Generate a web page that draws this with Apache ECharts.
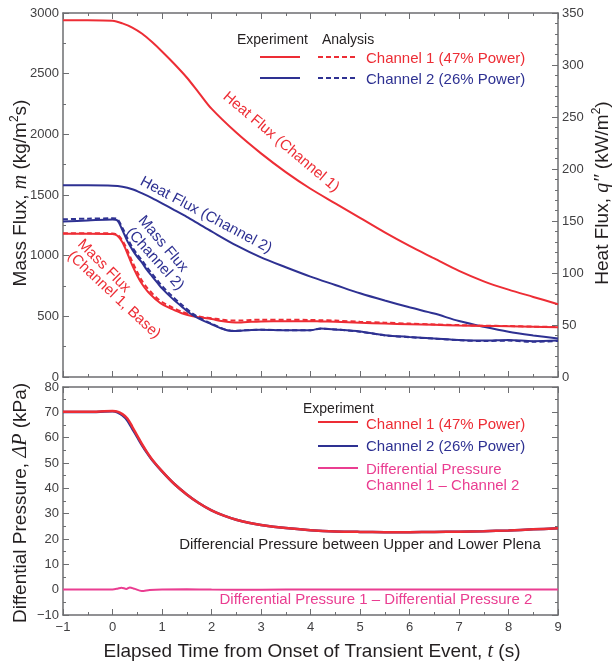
<!DOCTYPE html>
<html><head><meta charset="utf-8">
<script src="https://cdn.jsdelivr.net/npm/echarts@6.0.0/dist/echarts.min.js"></script>
<style>html,body{margin:0;padding:0;background:#fff}#c{width:612px;height:666px}</style>
</head><body><div id="c"></div>
<script>
// ---- Heat flux (kW/m2), right axis of the upper panel
const tHeat = [-1, -0.5, 0, 0.2, 0.4, 0.6, 0.8, 1.0, 1.25, 1.5, 1.75, 2.0, 2.5, 3.0, 3.5, 4.0, 4.5, 5.0, 5.5, 6.0, 6.5, 7.0, 7.5, 8.0, 8.5, 9.0];
const heatFluxCh1 = [343, 343, 342.5, 340, 336, 330, 322, 313, 301, 288, 273, 258, 235, 215, 197, 181, 167, 153, 139, 126, 114, 102, 92, 84, 77, 70];
const heatFluxCh2 = [184.3, 184.3, 184, 183, 180.5, 176.5, 172, 167, 160.5, 154, 147, 140, 126.5, 115, 105.5, 96.5, 88.5, 80.5, 73.5, 67, 61, 53.8, 48.3, 43.5, 40, 37];
// ---- Mass flux (kg/m2s), left axis of the upper panel
const tMass = [-1, -0.5, 0, 0.1, 0.2, 0.3, 0.4, 0.5, 0.6, 0.7, 0.8, 0.9, 1.0, 1.2, 1.4, 1.6, 1.8, 2.0, 2.2, 2.4, 2.6, 2.8, 3.0, 3.5, 4.0, 4.2, 4.5, 5.0, 5.5, 6.0, 6.5, 7.0, 7.5, 8.0, 8.5, 9.0];
const massCh1Exp = [1180, 1180, 1178, 1165, 1110, 1020, 920, 835, 765, 710, 668, 630, 600, 560, 525, 502, 490, 478, 462, 452, 450, 455, 458, 460, 460, 458, 455, 447, 440, 435, 430, 425, 421, 418, 414, 410];
const massCh1Ana = [1185, 1185, 1183, 1172, 1125, 1045, 950, 865, 790, 735, 690, 650, 618, 575, 538, 512, 495, 485, 472, 465, 465, 470, 472, 472, 470, 468, 465, 455, 448, 440, 433, 428, 423, 420, 415, 412];
const massCh2Exp = [1282, 1290, 1298, 1290, 1210, 1120, 1050, 990, 940, 880, 830, 780, 730, 650, 580, 515, 470, 435, 400, 380, 382, 388, 390, 385, 385, 400, 392, 375, 345, 330, 318, 305, 300, 305, 295, 300];
const massCh2Ana = [1300, 1305, 1308, 1300, 1230, 1145, 1070, 1010, 960, 902, 850, 800, 750, 668, 595, 528, 478, 440, 403, 382, 383, 388, 390, 386, 386, 398, 392, 373, 343, 328, 316, 303, 296, 300, 290, 297];
// ---- Differential pressure (kPa), lower panel
const tDP = [-1, -0.5, 0, 0.1, 0.2, 0.3, 0.4, 0.5, 0.6, 0.7, 0.8, 1.0, 1.25, 1.5, 1.75, 2.0, 2.25, 2.5, 2.75, 3.0, 3.5, 4.0, 4.5, 5.0, 5.5, 6.0, 6.5, 7.0, 7.5, 8.0, 8.5, 9.0];
const dpCh1 = [70.2, 70.2, 70.5, 70.3, 69.3, 67.6, 64.3, 60.8, 57.3, 54.2, 51.4, 46.8, 41.7, 37.6, 34.1, 31.3, 29.2, 27.6, 26.4, 25.5, 24.3, 23.5, 23.0, 22.8, 22.7, 22.7, 22.8, 22.9, 23.1, 23.4, 23.8, 24.2];
const dpCh2 = [70.1, 70.1, 70.4, 70.0, 68.8, 66.8, 63.5, 60.2, 56.9, 53.9, 51.2, 46.7, 41.7, 37.6, 34.1, 31.3, 29.2, 27.6, 26.4, 25.5, 24.3, 23.5, 23.0, 22.8, 22.7, 22.7, 22.8, 22.9, 23.1, 23.4, 23.8, 24.2];
const tDiff = [-1, -0.5, 0, 0.1, 0.18, 0.28, 0.35, 0.45, 0.59, 0.75, 1.0, 1.5, 2, 3, 4, 5, 6, 7, 8, 9];
const dpDiff = [0.1, 0.1, 0.1, 0.4, 0.8, 0.3, 0.9, 0.3, -0.5, -0.1, 0.1, 0.15, 0.05, 0, 0.05, 0.1, 0.1, 0.1, 0.1, 0.1];

const RED = '#ED2D35', BLUE = '#2E3192', PINK = '#EA3D91', INK = '#231F20', AXIS = '#6D6E71', TICKTXT = '#414042';
const SANS = 'Liberation Sans, Arial, sans-serif';
const SERIF = 'Liberation Serif, DejaVu Serif, serif';

function pairs(t, v) { return t.map((x, i) => [x, v[i]]); }
const minus = v => String(v).replace('-', '\u2212');

function xAx(grid, pos, showLabel) {
  return {
    type: 'value', gridIndex: grid, position: pos, min: -1, max: 9, interval: 1,
    axisLine: { show: true, onZero: false, lineStyle: { color: AXIS, width: 1.5 } },
    axisTick: { show: true, inside: true, length: 6, lineStyle: { color: AXIS, width: 1 } },
    minorTick: { show: true, splitNumber: 2, length: 3, lineStyle: { color: AXIS, width: 1 } },
    splitLine: { show: false }, minorSplitLine: { show: false },
    axisLabel: { show: showLabel, color: TICKTXT, fontSize: 13, fontFamily: SANS, margin: 6, formatter: minus }
  };
}
function yAx(grid, pos, min, max, interval, minorSplit, showLabel) {
  return {
    type: 'value', gridIndex: grid, position: pos, min, max, interval,
    axisLine: { show: true, onZero: false, lineStyle: { color: AXIS, width: 1.5 } },
    axisTick: { show: true, inside: true, length: 6, lineStyle: { color: AXIS, width: 1 } },
    minorTick: { show: true, splitNumber: minorSplit, length: 3, lineStyle: { color: AXIS, width: 1 } },
    splitLine: { show: false }, minorSplitLine: { show: false },
    axisLabel: { show: showLabel, color: TICKTXT, fontSize: 13, fontFamily: SANS, margin: 4, formatter: minus }
  };
}
function line(name, data, color, xi, yi, dashed, width) {
  return {
    name, type: 'line', data, xAxisIndex: xi, yAxisIndex: yi, showSymbol: false, symbol: 'none',
    smooth: 0.3, silent: true,
    lineStyle: { color, width: width || 2, type: dashed ? [5, 3] : 'solid' }
  };
}

function txt(x, y, text, fill, opts) {
  opts = opts || {};
  return {
    type: 'text', x, y, rotation: opts.rot || 0, silent: true, z: 100,
    style: { text, fill, fontSize: opts.size || 15, fontFamily: SANS,
      align: opts.align || 'left', verticalAlign: 'middle' }
  };
}
function seg(x1, x2, y, stroke, dashed) {
  return { type: 'line', silent: true, z: 100, shape: { x1, y1: y, x2, y2: y },
    style: { stroke, lineWidth: 2, lineDash: dashed ? [5, 3] : null } };
}
function richTitle(x, y, text, rot) {
  return {
    type: 'text', x, y, rotation: rot, silent: true, z: 100,
    style: {
      text, align: 'center', verticalAlign: 'middle',
      rich: {
        a: { fontSize: 19, fontFamily: SANS, fill: INK, lineHeight: 24 },
        i: { fontSize: 20, fontFamily: SERIF, fontStyle: 'italic', fill: INK, lineHeight: 24 },
        s: { fontSize: 12, fontFamily: SANS, fill: INK, verticalAlign: 'top', lineHeight: 14 }
      }
    }
  };
}

const chart = echarts.init(document.getElementById('c'), null, { renderer: 'canvas' });
chart.setOption({
  animation: false,
  backgroundColor: '#fff',
  grid: [
    { left: 63, top: 13, width: 495, height: 364 },
    { left: 63, top: 387, width: 495, height: 228 }
  ],
  xAxis: [xAx(0, 'bottom', false), xAx(0, 'top', false), xAx(1, 'bottom', true), xAx(1, 'top', false)],
  yAxis: [
    yAx(0, 'left', 0, 3000, 500, 2, true),
    yAx(0, 'right', 0, 350, 50, 5, true),
    yAx(1, 'left', -10, 80, 10, 2, true),
    yAx(1, 'right', -10, 80, 10, 2, false)
  ],
  series: [
    line('Heat Flux Ch1', pairs(tHeat, heatFluxCh1), RED, 0, 1),
    line('Heat Flux Ch2', pairs(tHeat, heatFluxCh2), BLUE, 0, 1),
    line('Mass Flux Ch1 Exp', pairs(tMass, massCh1Exp), RED, 0, 0),
    line('Mass Flux Ch1 Ana', pairs(tMass, massCh1Ana), RED, 0, 0, true),
    line('Mass Flux Ch2 Exp', pairs(tMass, massCh2Exp), BLUE, 0, 0),
    line('Mass Flux Ch2 Ana', pairs(tMass, massCh2Ana), BLUE, 0, 0, true),
    line('DP Ch2', pairs(tDP, dpCh2), BLUE, 2, 2, false, 2.5),
    line('DP Ch1', pairs(tDP, dpCh1), RED, 2, 2, false, 2.5),
    line('DP Diff', pairs(tDiff, dpDiff), PINK, 2, 2, false, 2)
  ],
  graphic: [
    // upper legend
    txt(237, 40, 'Experiment', INK, { size: 14 }),
    txt(322, 40, 'Analysis', INK, { size: 14 }),
    seg(260, 300, 57, RED), seg(318, 358, 57, RED, true), txt(366, 59, 'Channel 1 (47% Power)', RED),
    seg(260, 300, 78, BLUE), seg(318, 358, 78, BLUE, true), txt(366, 80, 'Channel 2 (26% Power)', BLUE),
    // upper annotations
    txt(281, 142, 'Heat Flux (Channel 1)', RED, { align: 'center', rot: -0.70 }),
    txt(206, 215, 'Heat Flux (Channel 2)', BLUE, { align: 'center', rot: -0.49 }),
    txt(163, 244, 'Mass Flux', BLUE, { align: 'center', rot: -0.87 }),
    txt(155, 259, '(Channel 2)', BLUE, { align: 'center', rot: -0.84 }),
    txt(104, 266, 'Mass Flux', RED, { align: 'center', rot: -0.79 }),
    txt(114, 295, '(Channel 1, Base)', RED, { align: 'center', rot: -0.75 }),
    // lower legend
    txt(303, 409, 'Experiment', INK, { size: 14 }),
    seg(318, 358, 422, RED), txt(366, 425, 'Channel 1 (47% Power)', RED),
    seg(318, 358, 446, BLUE), txt(366, 447, 'Channel 2 (26% Power)', BLUE),
    seg(318, 358, 468, PINK), txt(366, 470, 'Differential Pressure', PINK),
    txt(366, 486, 'Channel 1 \u2013 Channel 2', PINK),
    // lower annotations
    txt(360, 545, 'Differencial Pressure between Upper and Lower Plena', INK, { align: 'center' }),
    txt(376, 600, 'Differential Pressure 1 \u2013 Differential Pressure 2', PINK, { align: 'center' }),
    // axis titles
    richTitle(21, 193, '{a|Mass Flux, }{i|m}{a| (kg/m}{s|2}{a|s)}', Math.PI / 2),
    richTitle(603, 193, '{a|Heat Flux, }{i|q\u2033}{a| (kW/m}{s|2}{a|)}', Math.PI / 2),
    richTitle(21, 503, '{a|Diffential Pressure, }{i|\u0394P}{a| (kPa)}', Math.PI / 2),
    richTitle(312, 652, '{a|Elapsed Time from Onset of Transient Event, }{i|t}{a| (s)}', 0)
  ]
});
</script>
</body></html>
